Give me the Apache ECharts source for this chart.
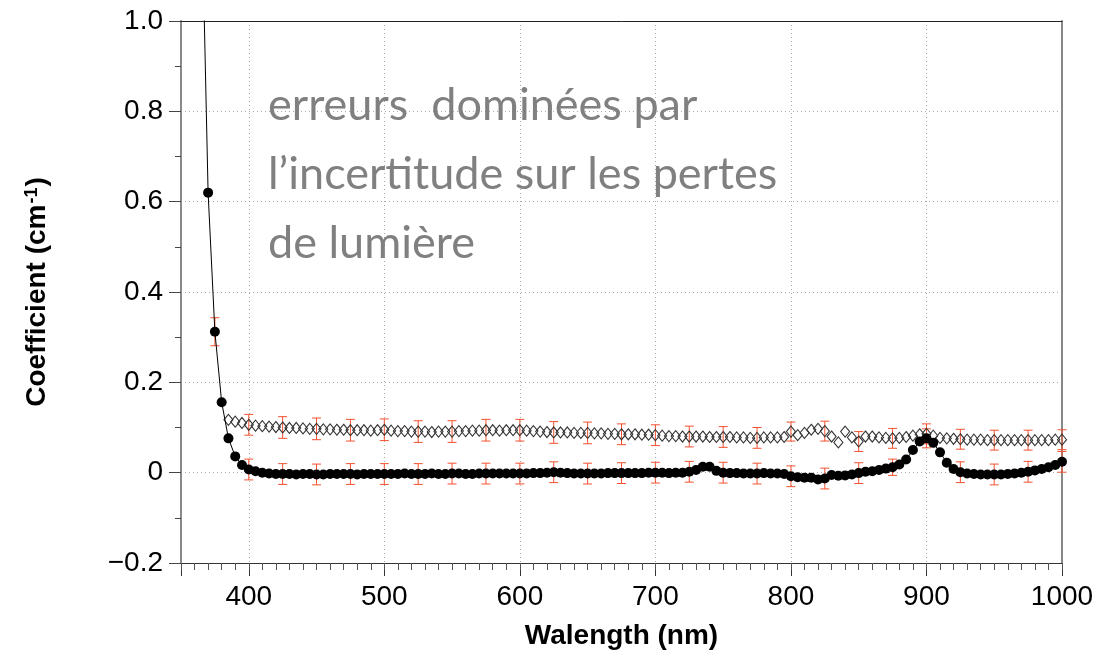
<!DOCTYPE html>
<html>
<head>
<meta charset="utf-8">
<script src="https://cdn.jsdelivr.net/npm/echarts@6/dist/echarts.min.js"></script>
<style>
html,body{margin:0;padding:0;background:#fff;}
#chart{width:1097px;height:656px;}
</style>
</head>
<body>
<div id="chart"></div>
<script>
// ---- data ----
const blackStart = 365;   // nm, first wavelength of the filled-circle series
const diamondStart = 385; // nm, first wavelength of the open-diamond series
const stepNm = 5;

// Filled circles (365 ... 1000 nm, every 5 nm)
const blackValues = [
  1.30, 0.62, 0.312, 0.156, 0.076, 0.036, 0.017,
  0.007, 0.003, 0.000, -0.002, -0.003, -0.003, -0.003, -0.004, -0.003, -0.003, -0.004, -0.004, -0.003, -0.003, -0.003, -0.003, -0.004, -0.003, -0.003, -0.003,
  -0.003, -0.003, -0.003, -0.002, -0.003, -0.003, -0.003, -0.002, -0.003, -0.003, -0.002, -0.002, -0.003, -0.003, -0.002, -0.002, -0.002, -0.002, -0.002, -0.002,
  -0.002, -0.002, -0.001, -0.001, 0.000, 0.001, 0.000, -0.001, -0.002, -0.002, -0.002, -0.002, -0.002, -0.001, -0.001, -0.001, -0.001, -0.001, -0.001, 0.000,
  0.000, 0.000, -0.001, 0.000, 0.000, 0.002, 0.006, 0.013, 0.013, 0.004, 0.000, -0.001, -0.001, -0.002, -0.002, -0.002, -0.001, -0.002, -0.002, -0.003,
  -0.008, -0.010, -0.011, -0.011, -0.015, -0.013, -0.005, -0.007, -0.006, -0.004, -0.001, 0.002, 0.003, 0.006, 0.009, 0.012, 0.018, 0.029, 0.050, 0.069,
  0.076, 0.066, 0.045, 0.022, 0.008, 0.001, -0.002, -0.003, -0.004, -0.004, -0.004, -0.004, -0.003, -0.002, 0.000, 0.002, 0.005, 0.008, 0.012, 0.017, 0.024
];

// Open diamonds (385 ... 1000 nm, every 5 nm)
const diamondValues = [
  0.117, 0.113, 0.110,
  0.106, 0.104, 0.103, 0.102, 0.101, 0.100, 0.099, 0.099, 0.098, 0.097, 0.097, 0.096, 0.096, 0.095, 0.095, 0.094, 0.094, 0.094, 0.093, 0.094,
  0.095, 0.093, 0.092, 0.092, 0.091, 0.091, 0.091, 0.090, 0.091, 0.091, 0.091, 0.092, 0.092, 0.093, 0.093, 0.094, 0.094, 0.093, 0.094, 0.094,
  0.094, 0.093, 0.092, 0.091, 0.090, 0.089, 0.089, 0.089, 0.088, 0.088, 0.088, 0.087, 0.087, 0.086, 0.086, 0.085, 0.085, 0.085, 0.084, 0.084,
  0.083, 0.082, 0.081, 0.081, 0.080, 0.080, 0.080, 0.080, 0.079, 0.079, 0.079, 0.079, 0.078, 0.078, 0.077, 0.077, 0.078, 0.078, 0.078, 0.079,
  0.091, 0.083, 0.088, 0.095, 0.097, 0.092, 0.080, 0.067, 0.091, 0.078, 0.069, 0.080, 0.080, 0.078, 0.077, 0.076, 0.077, 0.079, 0.082, 0.085,
  0.086, 0.082, 0.077, 0.076, 0.075, 0.074, 0.073, 0.073, 0.073, 0.072, 0.072, 0.072, 0.072, 0.072, 0.072, 0.072, 0.072, 0.072, 0.072, 0.073, 0.073
];

// Error bars (every 25 nm)
const blackErrWavelengths = [375, 400, 425, 450, 475, 500, 525, 550, 575, 600, 625, 650, 675, 700, 725, 750, 775, 800, 825, 850, 875, 900, 925, 950, 975, 1000];
const blackErrors = [0.031, 0.023, 0.023, 0.023, 0.023, 0.023, 0.023, 0.023, 0.023, 0.023, 0.023, 0.023, 0.023, 0.023, 0.023, 0.023, 0.023, 0.023, 0.023, 0.023, 0.018, 0.021, 0.023, 0.023, 0.023, 0.023];
const diamondErrWavelengths = [400, 425, 450, 475, 500, 525, 550, 575, 600, 625, 650, 675, 700, 725, 750, 775, 800, 825, 850, 875, 900, 925, 950, 975, 1000];
const diamondErrors = [0.023, 0.024, 0.024, 0.024, 0.024, 0.024, 0.024, 0.024, 0.024, 0.024, 0.024, 0.023, 0.023, 0.023, 0.023, 0.023, 0.021, 0.022, 0.022, 0.022, 0.022, 0.022, 0.022, 0.022, 0.022];

// Axes
const xMin = 350, xMax = 1000;
const yMin = -0.2, yMax = 1.0, yStep = 0.2;
const xTitle = 'Walength (nm)';
const yTitle = 'Coefficient (cm';
const ySup = '-1';
const noteLines = ['erreurs  dominées par', 'l\u2019incertitude sur les pertes', 'de lumière'];

// ---- build series data ----
function pairs(start, values) {
  return values.map((v, i) => [start + i * stepNm, v]);
}
const blackData = pairs(blackStart, blackValues);
const diamondData = pairs(diamondStart, diamondValues);
function errData(start, values, xs, errs) {
  return xs.map((x, i) => [x, values[Math.round((x - start) / stepNm)], errs[i]]);
}
const blackErrData = errData(blackStart, blackValues, blackErrWavelengths, blackErrors);
const diamondErrData = errData(diamondStart, diamondValues, diamondErrWavelengths, diamondErrors);

const FONT = '"Liberation Sans", Arial, Helvetica, sans-serif';
const ERR_COLOR = '#f4502f';

function renderErr(params, api) {
  const x = api.value(0), y = api.value(1), e = api.value(2);
  const hi = api.coord([x, y + e]);
  const lo = api.coord([x, y - e]);
  const w = 4.5;
  const st = { stroke: ERR_COLOR, lineWidth: 1 };
  return {
    type: 'group',
    children: [
      { type: 'line', shape: { x1: hi[0], y1: hi[1], x2: lo[0], y2: lo[1] }, style: st },
      { type: 'line', shape: { x1: hi[0] - w, y1: hi[1], x2: hi[0] + w, y2: hi[1] }, style: st },
      { type: 'line', shape: { x1: lo[0] - w, y1: lo[1], x2: lo[0] + w, y2: lo[1] }, style: st }
    ]
  };
}

const chart = echarts.init(document.getElementById('chart'), null, { renderer: 'canvas' });

const option = {
  animation: false,
  backgroundColor: '#fff',
  grid: { left: 181, top: 21, width: 881, height: 542, containLabel: false },
  xAxis: [
    {
      type: 'value', position: 'bottom', min: xMin, max: xMax,
      name: xTitle, nameLocation: 'middle', nameGap: 59,
      nameTextStyle: { fontFamily: FONT, fontSize: 28, fontWeight: 'bold', color: '#000' },
      axisLine: { show: true, onZero: false, lineStyle: { color: '#333', width: 1 } },
      axisTick: { show: true, inside: false, length: 13, lineStyle: { color: '#333' } },
      axisLabel: {
        fontFamily: FONT, fontSize: 28, color: '#000', margin: 20,
        formatter: v => (v % 100 === 0 ? String(v) : '')
      },
      splitLine: { show: true, lineStyle: { color: '#aaa', type: [1, 3], width: 1 } }
    },
    {
      type: 'value', position: 'bottom', min: xMin, max: xMax, interval: 10,
      axisLine: { show: false, onZero: false },
      axisTick: { show: true, inside: false, length: 7, lineStyle: { color: '#555' } },
      axisLabel: { show: false },
      splitLine: { show: false }
    },
    {
      type: 'value', position: 'top', min: xMin, max: xMax,
      axisLine: { show: true, onZero: false, lineStyle: { color: '#222', width: 1 } },
      axisTick: { show: false }, axisLabel: { show: false }, splitLine: { show: false }
    }
  ],
  yAxis: [
    {
      type: 'value', position: 'left', min: yMin, max: yMax, interval: yStep,
      name: '{t|' + yTitle + '}{s|' + ySup + '}{t|)}',
      nameLocation: 'middle', nameGap: 130, nameRotate: 90,
      nameTextStyle: {
        rich: {
          t: { fontFamily: FONT, fontSize: 28, fontWeight: 'bold', color: '#000' },
          s: { fontFamily: FONT, fontSize: 18, fontWeight: 'bold', color: '#000', verticalAlign: 'top', padding: [0, 1, 0, 1] }
        }
      },
      axisLine: { show: true, onZero: false, lineStyle: { color: '#888', width: 2 } },
      axisTick: { show: true, inside: false, length: 12, lineStyle: { color: '#444' } },
      minorTick: { show: true, splitNumber: 2, length: 6, lineStyle: { color: '#444' } },
      axisLabel: {
        fontFamily: FONT, fontSize: 28, color: '#000', margin: 18,
        formatter: v => {
          const r = Math.round(v * 10) / 10;
          if (Math.abs(r) < 1e-9) return '0';
          return r.toFixed(1).replace('-', '\u2212');
        }
      },
      splitLine: { show: true, lineStyle: { color: '#aaa', type: [1, 3], width: 1 } }
    },
    {
      type: 'value', position: 'right', min: yMin, max: yMax,
      axisLine: { show: true, onZero: false, lineStyle: { color: '#888', width: 2 } },
      axisTick: { show: false }, axisLabel: { show: false }, splitLine: { show: false }
    }
  ],
  series: [
    {
      type: 'custom', name: 'diamond errors', xAxisIndex: 0, yAxisIndex: 0,
      renderItem: renderErr, data: diamondErrData, z: 1, silent: true
    },
    {
      type: 'custom', name: 'circle errors', xAxisIndex: 0, yAxisIndex: 0,
      renderItem: renderErr, data: blackErrData, z: 1, silent: true
    },
    {
      type: 'scatter', name: 'diamonds', xAxisIndex: 0, yAxisIndex: 0,
      data: diamondData, symbol: 'diamond', symbolSize: [9, 11],
      itemStyle: { color: 'rgba(0,0,0,0)', borderColor: '#333', borderWidth: 1.1, opacity: 1 },
      z: 2, silent: true
    },
    {
      type: 'line', name: 'circles', xAxisIndex: 0, yAxisIndex: 0,
      data: blackData, symbol: 'circle', symbolSize: 10, showSymbol: true, showAllSymbol: true,
      clip: true,
      lineStyle: { color: '#000', width: 1 },
      itemStyle: { color: '#000', borderWidth: 0 },
      z: 3, silent: true
    }
  ],
  graphic: noteLines.map((t, i) => ({
    type: 'text', left: 268, top: 83 + i * 69,
    style: { text: t, fontFamily: 'Lato, "Open Sans", sans-serif', fontSize: 45, fill: '#808080' },
    silent: true, z: 10
  }))
};
chart.setOption(option);
</script>
</body>
</html>
